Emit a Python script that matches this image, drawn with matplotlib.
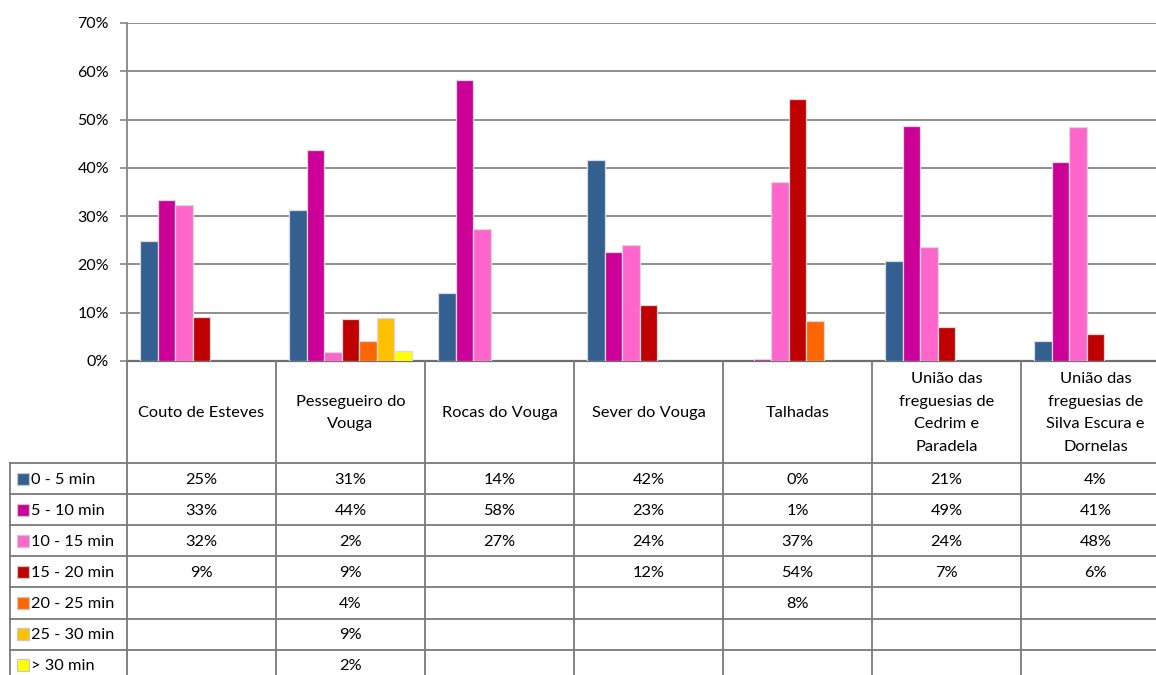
import numpy as np
import matplotlib
matplotlib.use("Agg")
import matplotlib.pyplot as plt
from matplotlib.lines import Line2D
from matplotlib.patches import Rectangle

plt.rcParams['font.family'] = ['Lato', 'DejaVu Sans']

categories = ["Couto de Esteves", "Pessegueiro do\nVouga", "Rocas do Vouga", "Sever do Vouga",
              "Talhadas", "União das\nfreguesias de\nCedrim e\nParadela",
              "União das\nfreguesias de\nSilva Escura e\nDornelas"]
series_names = ["0 - 5 min", "5 - 10 min", "10 - 15 min", "15 - 20 min",
                "20 - 25 min", "25 - 30 min", "> 30 min"]
s_0_5 = [24.9, 31.3, 14.1, 41.6, 0.0, 20.7, 4.1]
s_5_10 = [33.3, 43.6, 58.2, 22.6, 0.5, 48.6, 41.3]
s_10_15 = [32.3, 1.9, 27.3, 24.0, 37.1, 23.6, 48.4]
s_15_20 = [9.1, 8.6, None, 11.6, 54.2, 7.1, 5.6]
s_20_25 = [None, 4.1, None, None, 8.2, None, None]
s_25_30 = [None, 8.9, None, None, None, None, None]
s_30p = [None, 2.1, None, None, None, None, None]
series = [s_0_5, s_5_10, s_10_15, s_15_20, s_20_25, s_25_30, s_30p]
colors = ["#335F91", "#CC0099", "#FF66CC", "#C00000", "#FF6600", "#FFC000", "#FFFF00"]
yticks = [0, 10, 20, 30, 40, 50, 60, 70]

W, H = 1156, 675
fig = plt.figure(figsize=(W / 100, H / 100), dpi=100)

def fx(x):
    return x / W

def fy(y):
    return 1 - y / H

colw = 149.0
x0 = 127.0
ytop, ybot = 23.0, 361.0
ax = fig.add_axes([fx(x0), fy(ybot), 7 * colw / W, (ybot - ytop) / H])
n = len(series)
bw = 1 / 8.5
for j, (vals, c) in enumerate(zip(series, colors)):
    xs = [i + 0.5 + (j - 3) * bw for i, v in enumerate(vals) if v is not None and v > 0]
    hs = [v for v in vals if v is not None and v > 0]
    ax.bar(xs, hs, width=bw, color=c, edgecolor="#dadada", linewidth=0.9, zorder=3)

ax.set_xlim(0, 7)
ax.set_ylim(0, 70)
ax.set_yticks(yticks)
ax.set_yticklabels([f"{t}%" for t in yticks], fontsize=11.5, color="#000000")
ax.set_xticks([])
ax.tick_params(axis='y', direction='out', length=5, width=1.2, color="#868686", pad=8)
ax.grid(axis='y', color="#868686", linewidth=1.3, zorder=0)
for s in ['top', 'right']:
    ax.spines[s].set_visible(False)
ax.spines['left'].set_color("#868686")
ax.spines['left'].set_linewidth(1.3)
ax.spines['bottom'].set_color("#6f6f6f")
ax.spines['bottom'].set_linewidth(1.6)

# data table
lc = "#7a7a7a"
lw = 1.3
row_top = 463.0
row_h = 31.1
xr = x0 + 7 * colw
for k in range(8):
    x = x0 + k * colw
    fig.add_artist(Line2D([fx(x), fx(x)], [fy(ybot), fy(H + 5)], color=lc, linewidth=lw,
                          transform=fig.transFigure))
fig.add_artist(Line2D([fx(10), fx(10)], [fy(row_top), fy(H + 5)], color=lc, linewidth=lw,
                      transform=fig.transFigure))
for r in range(n + 1):
    y = row_top + r * row_h
    fig.add_artist(Line2D([fx(10), fx(xr)], [fy(y), fy(y)], color=lc, linewidth=lw,
                          transform=fig.transFigure))

for i, cat in enumerate(categories):
    cx = x0 + (i + 0.5) * colw
    fig.text(fx(cx), fy((ybot + row_top) / 2 + 1), cat, ha='center', va='center',
             fontsize=11.8, linespacing=1.8)

for j, (name, vals, c) in enumerate(zip(series_names, series, colors)):
    cy = row_top + (j + 0.5) * row_h
    fig.add_artist(Rectangle((fx(17), fy(cy + 6)), 12 / W, 12 / H, facecolor=c,
                             edgecolor="#c8c8c8", linewidth=0.9, transform=fig.transFigure))
    fig.text(fx(31), fy(cy + 1), name, ha='left', va='center', fontsize=11.8)
    for i, v in enumerate(vals):
        if v is None:
            continue
        cx = x0 + (i + 0.5) * colw
        fig.text(fx(cx), fy(cy + 1), f"{int(np.floor(v + 0.5))}%", ha='center', va='center',
                 fontsize=11.8)

fig.savefig("out.png", dpi=100)
